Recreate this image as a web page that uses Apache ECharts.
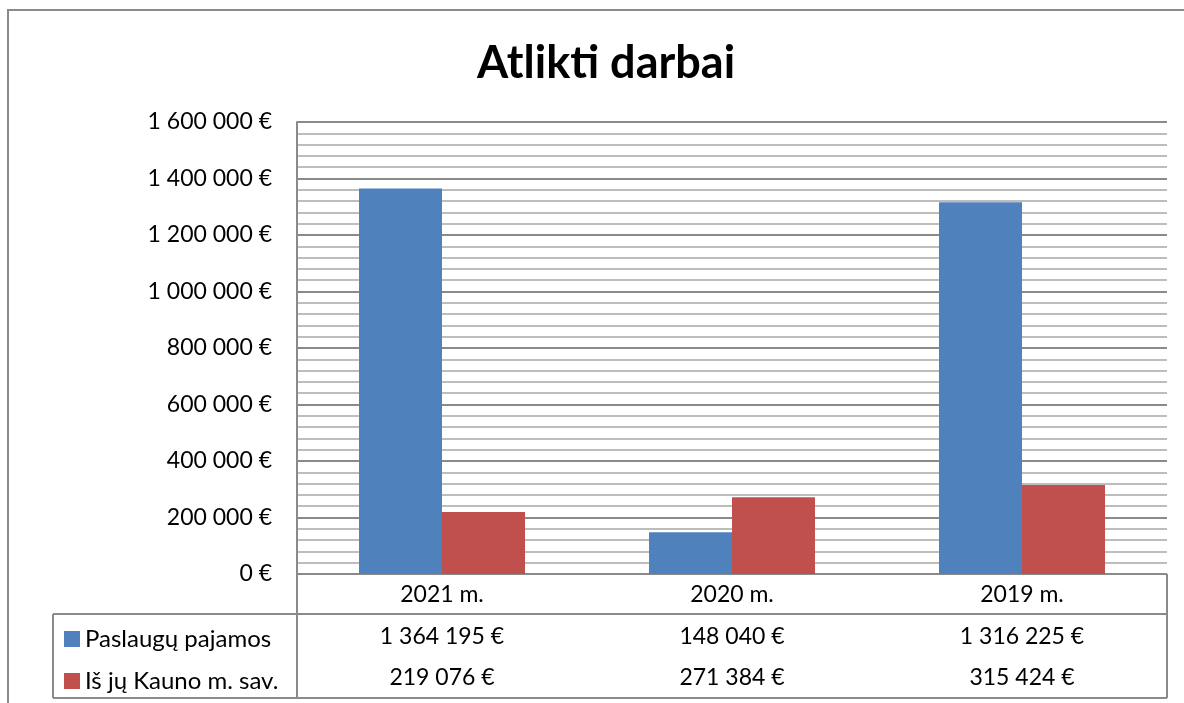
<!DOCTYPE html>
<html lang="lt">
<head>
<meta charset="UTF-8">
<title>Atlikti darbai</title>
<style>
    html, body { margin: 0; padding: 0; background: #fff; }
    #chart { width: 1184px; height: 703px; }
</style>
</head>
<body>
<div id="chart"></div>
<script src="https://cdn.jsdelivr.net/npm/echarts@6/dist/echarts.min.js"></script>
<script>
    var categories = ['2021 m.', '2020 m.', '2019 m.'];
    var seriesNames = ['Paslaugų pajamos', 'Iš jų Kauno m. sav.'];
    var pajamos = [1364195, 148040, 1316225];
    var kaunoSav = [219076, 271384, 315424];
    var yTicks = [0, 200000, 400000, 600000, 800000, 1000000, 1200000, 1400000, 1600000];

    var FONT = 'Lato';
    var LINE = '#8a8a8a';

    function fmt(n) {
        return String(n).replace(/\B(?=(\d{3})+(?!\d))/g, ' ') + ' €';
    }

    var chart = echarts.init(document.getElementById('chart'));

    function rowAxis(offset, values) {
        return {
            type: 'category',
            data: categories,
            position: 'bottom',
            offset: offset,
            axisLine: { show: false },
            axisTick: { show: false },
            axisLabel: {
                margin: 9,
                fontFamily: FONT,
                fontSize: 23,
                color: '#000',
                formatter: function (v, i) { return values ? fmt(values[i]) : v; }
            }
        };
    }

    var option = {
        backgroundColor: '#fff',
        animation: false,
        title: {
            text: 'Atlikti darbai',
            left: 601,
            textAlign: 'center',
            top: 36,
            textStyle: { fontFamily: FONT, fontSize: 45, fontWeight: 'bold', color: '#000' }
        },
        legend: {
            orient: 'vertical',
            left: 59,
            top: 622,
            itemWidth: 16,
            itemHeight: 16,
            itemGap: 18,
            icon: 'rect',
            selectedMode: false,
            data: seriesNames,
            textStyle: { fontFamily: FONT, fontSize: 24, color: '#000' }
        },
        grid: { left: 297, right: 17, top: 122, bottom: 129, containLabel: false },
        xAxis: [
            rowAxis(0, null),
            rowAxis(42, pajamos),
            rowAxis(83, kaunoSav)
        ],
        yAxis: {
            type: 'value',
            min: yTicks[0],
            max: yTicks[yTicks.length - 1],
            interval: yTicks[1] - yTicks[0],
            axisLine: { show: true, lineStyle: { color: LINE, width: 2 } },
            axisTick: { show: false },
            axisLabel: {
                margin: 25,
                fontFamily: FONT,
                fontSize: 23,
                color: '#000',
                formatter: function (v) { return fmt(v); }
            },
            splitLine: { show: true, lineStyle: { color: LINE, width: 2 } },
            minorTick: { show: false, splitNumber: 5 },
            minorSplitLine: { show: true, lineStyle: { color: '#bdbdbd', width: 2 } }
        },
        series: [
            {
                name: seriesNames[0],
                type: 'bar',
                data: pajamos,
                barWidth: 83,
                barGap: '0%',
                itemStyle: { color: '#4F81BD' }
            },
            {
                name: seriesNames[1],
                type: 'bar',
                data: kaunoSav,
                barWidth: 83,
                barGap: '0%',
                itemStyle: { color: '#C0504D' }
            }
        ],
        graphic: [
            { type: 'rect', shape: { x: 8, y: 10, width: 1200, height: 720 }, style: { fill: null, stroke: LINE, lineWidth: 2 }, silent: true },
            { type: 'line', shape: { x1: 297, y1: 574, x2: 297, y2: 698 }, style: { stroke: LINE, lineWidth: 2 } },
            { type: 'line', shape: { x1: 1167, y1: 574, x2: 1167, y2: 698 }, style: { stroke: LINE, lineWidth: 2 } },
            { type: 'line', shape: { x1: 53, y1: 614, x2: 1167, y2: 614 }, style: { stroke: LINE, lineWidth: 2 } },
            { type: 'line', shape: { x1: 53, y1: 614, x2: 53, y2: 698 }, style: { stroke: LINE, lineWidth: 2 } },
            { type: 'line', shape: { x1: 53, y1: 698, x2: 1167, y2: 698 }, style: { stroke: LINE, lineWidth: 2 } }
        ]
    };

    chart.setOption(option);
</script>
</body>
</html>
